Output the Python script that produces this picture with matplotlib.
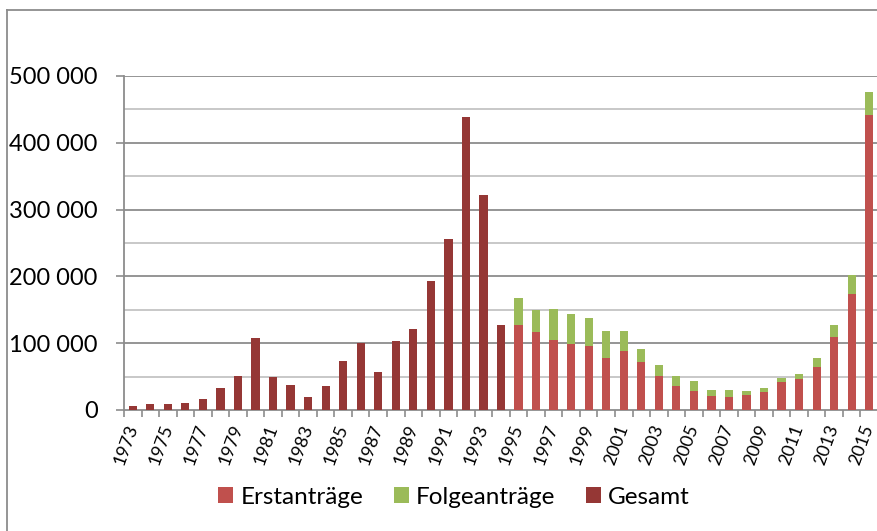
import matplotlib
matplotlib.use("Agg")
import matplotlib.pyplot as plt
from matplotlib.lines import Line2D
from matplotlib.patches import Patch
import numpy as np

plt.rcParams['font.family'] = ['Lato', 'DejaVu Sans']

years = list(range(1973, 2016))
gesamt_years = list(range(1973, 1995))
gesamt = [5595, 9424, 9627, 11123, 16410, 33136, 51493, 107818, 49391, 37423,
          19737, 35278, 73832, 99650, 57379, 103076, 121318, 193063, 256112,
          438191, 322599, 127210]
split_years = list(range(1995, 2016))
erst = [127937, 116367, 104353, 98644, 95113, 78564, 88287, 71127, 50563, 35607,
        28914, 21029, 19164, 22085, 27649, 41332, 45741, 64539, 109580, 173072,
        441899]
folge = [39014, 32826, 47347, 44785, 43206, 39084, 30019, 20344, 17285, 14545,
         13994, 9071, 11139, 5933, 5384, 7257, 7606, 13112, 17443, 29762, 34750]
yticks = [0, 100000, 200000, 300000, 400000, 500000]
ytick_labels = ["0", "100 000", "200 000", "300 000", "400 000", "500 000"]

c_erst = "#C0504D"
c_folge = "#9BBB59"
c_ges = "#953735"
grid_major = "#8C8C8C"
grid_minor = "#C4C4C4"

fig = plt.figure(figsize=(8.78, 5.31), dpi=100)
W, H = 878, 531
ax = fig.add_axes([124 / W, 1 - 410 / H, (878 - 124) / W, (410 - 76) / H])

idx = {y: i for i, y in enumerate(years)}
bw = 0.47
xg = [idx[y] for y in gesamt_years]
xs = [idx[y] for y in split_years]
ax.bar(xg, gesamt, width=bw, color=c_ges, zorder=3)
ax.bar(xs, erst, width=bw, color=c_erst, zorder=3)
ax.bar(xs, folge, width=bw, bottom=erst, color=c_folge, zorder=3)

ax.set_xlim(-0.5, len(years) - 0.5)
ax.set_ylim(0, 500000)

ax.set_yticks(yticks)
ax.set_yticklabels(ytick_labels, fontsize=17)
ax.set_yticks([50000, 150000, 250000, 350000, 450000], minor=True)
ax.tick_params(axis='y', which='major', length=6, width=1.2, color=grid_major,
               pad=13, direction='out')
ax.tick_params(axis='y', which='minor', length=0)
for v in yticks[1:]:
    ax.axhline(v, color=grid_major, lw=1.3, zorder=1)
for v in [50000, 150000, 250000, 350000, 450000]:
    ax.axhline(v, color=grid_minor, lw=1.3, zorder=1)

ax.set_xticks(range(0, len(years), 2))
ax.set_xticklabels([str(y) for y in years[::2]], rotation=70, fontsize=13,
                   ha='right', va='center', rotation_mode='anchor')
ax.set_xticks(np.arange(-0.5, len(years), 1.0), minor=True)
ax.tick_params(axis='x', which='major', length=0, pad=11)
ax.tick_params(axis='x', which='minor', length=5, width=1.2, color=grid_major,
               direction='out')

for s in ['top', 'right']:
    ax.spines[s].set_visible(False)
ax.spines['left'].set_color(grid_major)
ax.spines['left'].set_linewidth(1.3)
ax.spines['bottom'].set_color(grid_major)
ax.spines['bottom'].set_linewidth(1.3)

handles = [Patch(facecolor=c_erst, label="Erstanträge"),
           Patch(facecolor=c_folge, label="Folgeanträge"),
           Patch(facecolor=c_ges, label="Gesamt")]
fig.legend(handles=handles, loc='center', bbox_to_anchor=(454 / W, 1 - 497 / H),
           ncol=3, frameon=False, fontsize=17.5, handlelength=0.62,
           handleheight=0.62, handletextpad=0.3, columnspacing=1.25)

# outer chart frame (partially visible)
fig.add_artist(Line2D([7 / W, 7 / W], [0, 1 - 10 / H], color="#8C8C8C", lw=1.3,
                      transform=fig.transFigure))
fig.add_artist(Line2D([7 / W, 1], [1 - 10 / H, 1 - 10 / H], color="#8C8C8C", lw=1.3,
                      transform=fig.transFigure))

fig.savefig("out.png", dpi=100)
